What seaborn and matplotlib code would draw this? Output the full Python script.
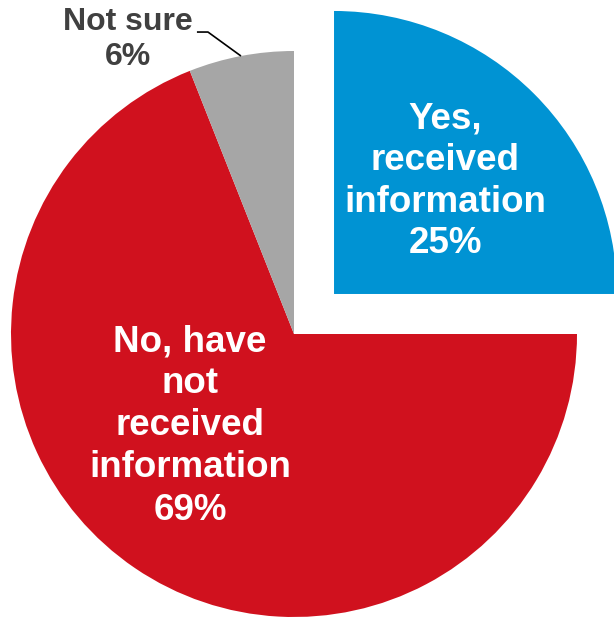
import numpy as np
import matplotlib
matplotlib.use("Agg")
import matplotlib.pyplot as plt
import seaborn as sns

# Survey responses: has the respondent received information?
categories = ["Yes,\nreceived\ninformation", "No, have\nnot\nreceived\ninformation", "Not sure"]
shares = [25, 69, 6]
colors = ["#0093D3", "#D0111E", "#A6A6A6"]
explode = [0.2, 0.0, 0.0]

sns.set_style("white")
plt.rcParams["font.family"] = ["Liberation Sans", "DejaVu Sans"]

W, H, DPI = 614, 618, 100
fig = plt.figure(figsize=(W / DPI, H / DPI), dpi=DPI)
ax = fig.add_axes([0, 0, 1, 1])

R_PX = 283.0           # pie radius in pixels
CX, CY = 294.0, 334.0  # pie centre in pixels from top-left

wedges, _ = ax.pie(
    shares,
    colors=colors,
    explode=explode,
    startangle=90,
    counterclock=False,
    radius=1.0,
    center=(0, 0),
    wedgeprops=dict(linewidth=0),
)

ax.set_xlim(-CX / R_PX, (W - CX) / R_PX)
ax.set_ylim(-(H - CY) / R_PX, CY / R_PX)
ax.set_aspect("equal")
ax.axis("off")

label_texts = [f"{c}\n{v}%" for c, v in zip(categories, shares)]

# In-slice labels for the two large slices
ax.text(0.534, 0.540, label_texts[0], ha="center", va="center", ma="center",
        color="white", fontsize=26.5, fontweight="bold", linespacing=1.25)
ax.text(-0.367, -0.325, label_texts[1], ha="center", va="center", ma="center",
        color="white", fontsize=26.5, fontweight="bold", linespacing=1.26)

# Outside label for the small slice with a leader line
ax.text(-0.587, 1.042, label_texts[2], ha="center", va="center", ma="center",
        color="#404040", fontsize=23, fontweight="bold", linespacing=1.22)

w = wedges[2]
mid = np.deg2rad((w.theta1 + w.theta2) / 2)
ax_pt = (w.r * np.cos(mid), w.r * np.sin(mid))
elbow = (-0.304, 1.067)
tail = (-0.343, 1.067)
ax.plot([ax_pt[0], elbow[0], tail[0]], [ax_pt[1], elbow[1], tail[1]],
        color="black", linewidth=1.2, solid_capstyle="butt")

fig.savefig("out.png", dpi=DPI, facecolor="white")
